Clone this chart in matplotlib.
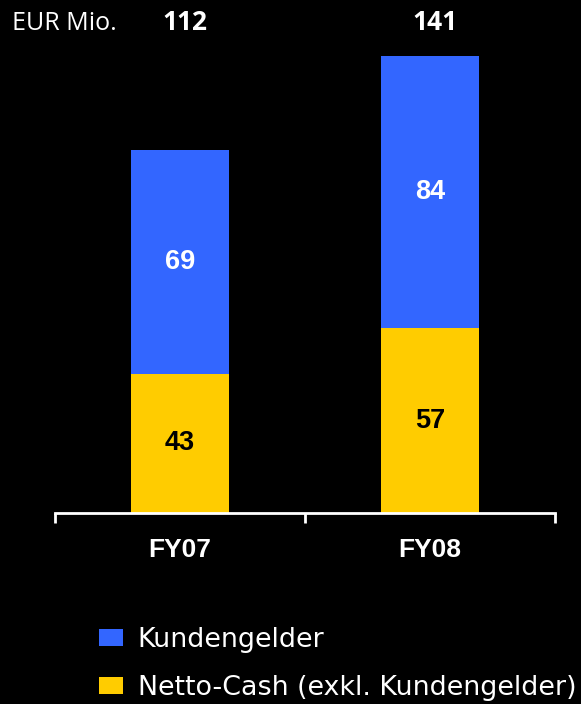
import matplotlib
matplotlib.use("Agg")
import matplotlib.pyplot as plt
from matplotlib.transforms import blended_transform_factory

categories = ["FY07", "FY08"]
netto_cash = [43, 57]
kundengelder = [69, 84]
totals = [112, 141]
unit_label = "EUR Mio."
series_names = ["Kundengelder", "Netto-Cash (exkl. Kundengelder)"]

blue = "#3366FF"
yellow = "#FFCC00"

fig = plt.figure(figsize=(5.81, 7.04), dpi=100, facecolor="black")
ax = fig.add_axes([55 / 581, 191 / 704, 500 / 581, 486 / 704])
ax.set_facecolor("black")

x = list(range(len(categories)))
b1 = ax.bar(x, netto_cash, width=0.39, color=yellow, zorder=2)
b2 = ax.bar(x, kundengelder, width=0.39, bottom=netto_cash, color=blue, zorder=2)

ax.set_xlim(-0.5, 1.5)
ax.set_ylim(0, 150)

num_font = dict(family="Liberation Sans", weight="bold", fontsize=19.5)
for xi, n, k in zip(x, netto_cash, kundengelder):
    ax.text(xi, n / 2, str(n), ha="center", va="center", color="black", **num_font)
    ax.text(xi, n + k / 2, str(k), ha="center", va="center", color="white", **num_font)

# axis line with ticks between the categories
for s in ["top", "right", "left"]:
    ax.spines[s].set_visible(False)
ax.spines["bottom"].set_color("white")
ax.spines["bottom"].set_linewidth(2)
ax.set_yticks([])
ax.set_xticks([-0.5, 0.5, 1.5])
ax.set_xticklabels([])
ax.tick_params(axis="x", direction="out", length=7, width=2, color="white")
trans = blended_transform_factory(ax.transData, fig.transFigure)
for xi, c in zip(x, categories):
    ax.text(xi, 1 - 550 / 704, c, transform=trans, ha="center", va="center",
            color="white", family="Liberation Sans", weight="bold", fontsize=19)

# totals row
for xi, t in zip(x, totals):
    ax.text(xi + 0.02, 1 - 23 / 704, str(t), transform=trans, ha="center", va="center",
            color="white", family="Open Sans", weight="bold", fontsize=19)
fig.text(12 / 581, 1 - 23 / 704, unit_label, ha="left", va="center",
         color="white", family="Open Sans", fontsize=18)

leg = fig.legend([b2, b1], series_names, loc="upper left",
                 bbox_to_anchor=(99 / 581, 1 - 627 / 704), frameon=False,
                 prop=dict(family="DejaVu Sans", size=19.4), labelcolor="white",
                 handlelength=0.9, handleheight=0.57, handletextpad=0.53,
                 labelspacing=0.82, borderpad=0, borderaxespad=0)

fig.savefig("out.png", dpi=100, facecolor="black")
